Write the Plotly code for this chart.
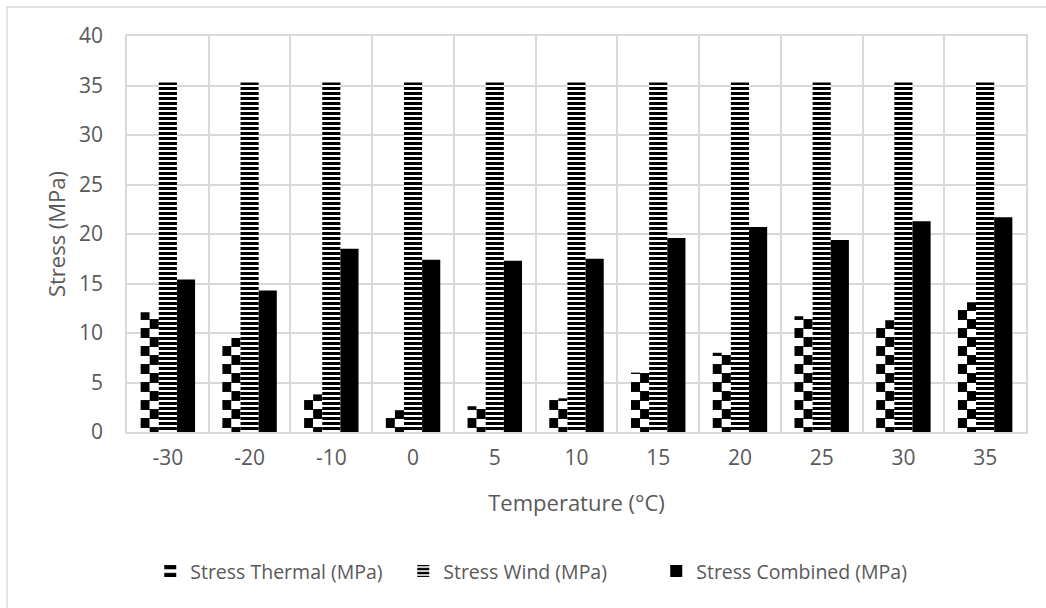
import plotly.graph_objects as go

temperatures = ["-30", "-20", "-10", "0", "5", "10", "15", "20", "25", "30", "35"]
stress_thermal = [12.1, 9.5, 3.8, 2.2, 2.6, 3.4, 6.0, 8.0, 11.7, 11.3, 13.1]
stress_wind = [35.3, 35.3, 35.3, 35.3, 35.3, 35.3, 35.3, 35.3, 35.3, 35.3, 35.3]
stress_combined = [15.4, 14.3, 18.5, 17.4, 17.3, 17.5, 19.6, 20.7, 19.4, 21.3, 21.7]

W = 0.222  # bar width in category units
TXT = "#595959"
GRID = "#d9d9d9"
FONT = "Open Sans, Liberation Sans, sans-serif"

fig = go.Figure()
# Thermal: checkerboard = two half-width striped bars with inverted colours
fig.add_trace(go.Bar(
    x=temperatures, y=stress_thermal, name="Stress Thermal (MPa)",
    legendgroup="th", offset=-1.5 * W, width=0.5 * W,
    marker=dict(color="white", line=dict(width=0),
                pattern=dict(shape="-", fgcolor="black", bgcolor="white",
                             size=18, solidity=0.55, fillmode="replace")),
))
fig.add_trace(go.Bar(
    x=temperatures, y=stress_thermal, name="Stress Thermal (MPa)",
    legendgroup="th", showlegend=False, offset=-1.0 * W, width=0.5 * W,
    marker=dict(color="black", line=dict(width=0),
                pattern=dict(shape="-", fgcolor="white", bgcolor="black",
                             size=18, solidity=0.45, fillmode="replace")),
))
fig.add_trace(go.Bar(
    x=temperatures, y=stress_wind, name="Stress Wind (MPa)",
    offset=-0.5 * W, width=W,
    marker=dict(color="white", line=dict(width=0),
                pattern=dict(shape="-", fgcolor="black", bgcolor="white",
                             size=5, solidity=0.6, fillmode="replace")),
))
fig.add_trace(go.Bar(
    x=temperatures, y=stress_combined, name="Stress Combined (MPa)",
    offset=0.5 * W, width=W,
    marker=dict(color="black", line=dict(width=0)),
))

fig.update_layout(
    width=1046, height=608,
    margin=dict(l=127, r=20, t=36, b=176),
    barmode="overlay",
    plot_bgcolor="white", paper_bgcolor="white",
    font=dict(family=FONT, color=TXT, size=20),
    showlegend=True,
    legend=dict(orientation="h", x=0.448, xanchor="center", y=-0.352, yanchor="middle",
                font=dict(size=19.5, color=TXT), traceorder="normal",
                entrywidth=208, entrywidthmode="pixels"),
    xaxis=dict(
        type="category", tickson="boundaries", showgrid=True, gridcolor=GRID,
        gridwidth=1.5, showline=True, linecolor=GRID, linewidth=1.5, mirror=True,
        ticks="", tickfont=dict(size=21, color=TXT), ticklabelstandoff=6,
        title=dict(text="Temperature (°C)", font=dict(size=22, color=TXT), standoff=26),
        range=[-0.5, 10.5],
    ),
    yaxis=dict(
        range=[0, 40], dtick=5, showgrid=True, gridcolor=GRID, gridwidth=1.5,
        showline=True, linecolor=GRID, linewidth=1.5, mirror=True,
        ticks="", tickfont=dict(size=21, color=TXT), ticklabelstandoff=18,
        zeroline=False,
        title=dict(text="Stress (MPa)", font=dict(size=22, color=TXT), standoff=7),
    ),
    shapes=[dict(type="rect", xref="paper", yref="paper",
                 x0=(7 - 127) / 899, x1=(1060 - 127) / 899,
                 y0=(432 - 620) / 396, y1=(432 - 7) / 396,
                 line=dict(color=GRID, width=1.5), fillcolor="rgba(0,0,0,0)",
                 layer="below")],
)

fig.write_html("out.html")
